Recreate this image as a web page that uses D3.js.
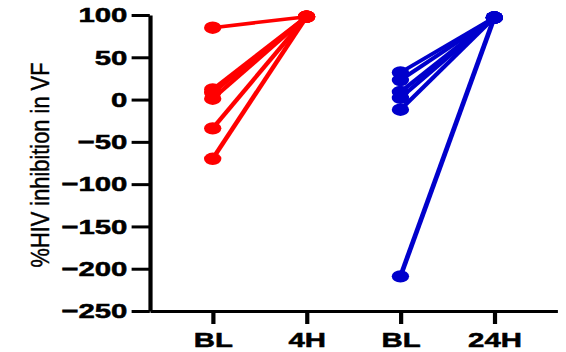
<!DOCTYPE html>
<html>
<head>
<meta charset="utf-8">
<script src="https://cdn.jsdelivr.net/npm/d3@7"></script>
<style>
  body { margin: 0; background: #fff; }
  text { font-family: "Liberation Sans", Arial, sans-serif; }
</style>
</head>
<body>
<svg id="chart" width="566" height="352"></svg>
<script>
// categories on the x axis
var categories = ["BL", "4H", "BL", "24H"];
var yTicks = [-250, -200, -150, -100, -50, 0, 50, 100];

// paired values, one entry per subject
var redBL = [85, 12, 8, 1, -34, -70];
var red4H = [98, 98, 98, 98, 98, 98];
var blueBL = [32, 23, 9, 2, -12, -209];
var blue24H = [97, 97, 97, 97, 97, 97];

var red = "#ff0000";
var blue = "#0000cc";

// the original figure is stretched sideways, so draw in a squeezed frame
var sx = 1.4;
var svg = d3.select("#chart");
var g = svg.append("g").attr("transform", "scale(" + sx + ",1)");

var x = d3.scalePoint()
	.domain(d3.range(categories.length))
	.range([107, 398])
	.padding(0.67);

var y = d3.scaleLinear()
	.domain([-250, 100])
	.range([311, 15]);

function pairs(a, b, i0, i1) {
	return a.map(function(v, i) { return {x0: i0, y0: v, x1: i1, y1: b[i]}; });
}

var groups = [
	{color: red, data: pairs(redBL, red4H, 0, 1)},
	{color: blue, data: pairs(blueBL, blue24H, 2, 3)}
];

groups.forEach(function(grp) {
	g.append("g").selectAll("line")
		.data(grp.data)
		.enter().append("line")
		.attr("x1", function(d) { return x(d.x0); })
		.attr("y1", function(d) { return y(d.y0); })
		.attr("x2", function(d) { return x(d.x1); })
		.attr("y2", function(d) { return y(d.y1); })
		.attr("stroke", grp.color)
		.attr("stroke-width", 3.5);

	var pts = [];
	grp.data.forEach(function(d) {
		pts.push({x: d.x0, y: d.y0});
		pts.push({x: d.x1, y: d.y1});
	});
	g.append("g").selectAll("circle")
		.data(pts)
		.enter().append("circle")
		.attr("cx", function(d) { return x(d.x); })
		.attr("cy", function(d) { return y(d.y); })
		.attr("r", 6.2)
		.attr("fill", grp.color);
});

// y axis
var yAxis = g.append("g")
	.attr("transform", "translate(107,0)")
	.call(d3.axisLeft(y).tickValues(yTicks).tickSize(13).tickSizeOuter(0).tickPadding(3));

// x axis
var xAxis = g.append("g")
	.attr("transform", "translate(0,311)")
	.call(d3.axisBottom(x).tickSize(13).tickSizeOuter(0).tickPadding(8)
		.tickFormat(function(i) { return categories[i]; }));

[yAxis, xAxis].forEach(function(ax) {
	ax.select(".domain").attr("stroke", "#000").attr("stroke-width", 3);
	ax.selectAll(".tick line").attr("stroke", "#000").attr("stroke-width", 3);
	ax.selectAll("text")
		.attr("fill", "#000")
		.attr("stroke", "#000")
		.attr("stroke-width", 0.5)
		.style("font-size", "21px")
		.style("font-weight", "bold")
		.style("font-family", "'Liberation Sans', Arial, sans-serif");
});

// y axis title
g.append("text")
	.attr("transform", "translate(" + (40 / sx + 6.5) + ",165) rotate(-90)")
	.attr("text-anchor", "middle")
	.attr("textLength", 205)
	.attr("lengthAdjust", "spacingAndGlyphs")
	.attr("stroke", "#000")
	.attr("stroke-width", 0.3)
	.style("font-size", "18.5px")
	.text("%HIV inhibition in VF");
</script>
</body>
</html>
